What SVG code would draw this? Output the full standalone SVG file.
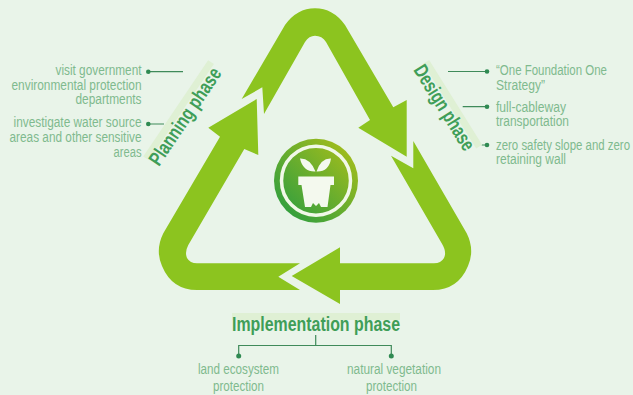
<svg xmlns="http://www.w3.org/2000/svg" width="633" height="395" viewBox="0 0 633 395">
<defs>
<linearGradient id="ring" x1="0.1" y1="0.9" x2="0.9" y2="0.1"><stop offset="0" stop-color="#2f9e3f"/><stop offset="1" stop-color="#a3bd1c"/></linearGradient>
</defs>
<style>
.arrow{fill:#8cc41f}
.t{font-family:"Liberation Sans",sans-serif;font-size:14px;fill:#7fba8e}
.e{text-anchor:end}
.h{font-family:"Liberation Sans",sans-serif;font-weight:bold;font-size:20px;fill:#3f9e58}
.l{stroke:#3f8a5a;stroke-width:1.2;fill:none}
.d{fill:#2f8a52}
.band{fill:#dff0d4}
</style>
<rect width="633" height="395" fill="#e9f4e9"/>
<g id="cycle-arrows">
<path class="arrow" d="M241.7 99L262.3 87.3L264 114L305 42Q309 35.7 315 35.7Q322 35.7 326 42L370 120L358.3 127.7L406.7 156.7V100L393.3 107.3L345 25Q333 8.3 315 8.3Q297 8.3 285 25Z"/>
<path class="arrow" d="M256.7 99L208.3 127.7L220 136.7L163.3 233.3Q155 250 162 266Q172 290 197 290H300L278.3 276.7L300 263.3H197Q190 263.3 187 258Q184.5 252 188.3 245L244.3 149L258.3 155Z"/>
<path class="arrow" d="M291.7 276L340 247.3V263.3H434Q441 263.3 444 258Q447 252 441.7 243.3L391 155.7L413.3 168.3V141L466.7 233.3Q475 250 468 266Q458 290 433 290H340V304Z"/>
</g>
<g id="emblem">
<circle cx="316" cy="180.7" r="42" fill="url(#ring)"/>
<circle cx="316" cy="180.7" r="34.5" fill="none" stroke="#f1f8e8" stroke-width="3.5"/>
<path fill="#f4f9ee" d="M300 158.5Q310 158 315.5 171.5Q303 172 300 158.5ZM331 158.5Q321 158 316.5 171.5Q329 172 331 158.5Z"/>
<path fill="#f4f9ee" d="M298.3 176.5H334V185H330.5L327.5 207H321L319 203L316 206L313 203L311 207H305L301.5 185H298.3Z"/>
</g>
<g id="connectors">
<path class="l" d="M148.3 71.7H183M148.3 124H164M448 71.5H487M462.7 106.7H487M481.7 145H487M315.7 335V345.5M238.7 356V345.5H391.3V356"/>
<circle class="d" cx="148.3" cy="71.7" r="2.3"/><circle class="d" cx="148.3" cy="124" r="2.3"/>
<circle class="d" cx="487" cy="71.5" r="2.3"/><circle class="d" cx="487" cy="106.7" r="2.3"/><circle class="d" cx="487" cy="145" r="2.3"/>
<circle class="d" cx="238.7" cy="356" r="2.5"/><circle class="d" cx="391.3" cy="356" r="2.5"/>
</g>
<g id="planning-phase">
<rect class="band" x="0" y="-19" width="116" height="7" transform="translate(159 167) rotate(-56)"/>
<text class="h" transform="translate(159 167) rotate(-56)" textLength="113" lengthAdjust="spacingAndGlyphs">Planning phase</text>
<text class="t e" x="141.5" y="75" textLength="86" lengthAdjust="spacingAndGlyphs">visit government</text>
<text class="t e" x="141.5" y="89.5" textLength="130" lengthAdjust="spacingAndGlyphs">environmental protection</text>
<text class="t e" x="141.5" y="104" textLength="66" lengthAdjust="spacingAndGlyphs">departments</text>
<text class="t e" x="141.5" y="127" textLength="128" lengthAdjust="spacingAndGlyphs">investigate water source</text>
<text class="t e" x="141.5" y="141.7" textLength="132" lengthAdjust="spacingAndGlyphs">areas and other sensitive</text>
<text class="t e" x="141.5" y="156.5" textLength="28" lengthAdjust="spacingAndGlyphs">areas</text>
</g>
<g id="design-phase">
<rect class="band" x="0" y="-19" width="100" height="7" transform="translate(413 70) rotate(58)"/>
<text class="h" transform="translate(413 70) rotate(58)" textLength="97" lengthAdjust="spacingAndGlyphs">Design phase</text>
<text class="t" x="496" y="75" textLength="111" lengthAdjust="spacingAndGlyphs">“One Foundation One</text>
<text class="t" x="496" y="89.5" textLength="49" lengthAdjust="spacingAndGlyphs">Strategy”</text>
<text class="t" x="496" y="111.5" textLength="70" lengthAdjust="spacingAndGlyphs">full-cableway</text>
<text class="t" x="496" y="126" textLength="73" lengthAdjust="spacingAndGlyphs">transportation</text>
<text class="t" x="496" y="149.5" textLength="134" lengthAdjust="spacingAndGlyphs">zero safety slope and zero</text>
<text class="t" x="496" y="164" textLength="70" lengthAdjust="spacingAndGlyphs">retaining wall</text>
</g>
<g id="implementation-phase">
<rect class="band" x="232" y="313" width="168" height="7"/>
<text class="h" x="232" y="331" textLength="168" lengthAdjust="spacingAndGlyphs">Implementation phase</text>
<text class="t" x="198" y="374" textLength="81" lengthAdjust="spacingAndGlyphs">land ecosystem</text>
<text class="t" x="213" y="391" textLength="51" lengthAdjust="spacingAndGlyphs">protection</text>
<text class="t" x="347" y="374" textLength="94" lengthAdjust="spacingAndGlyphs">natural vegetation</text>
<text class="t" x="366" y="391" textLength="51" lengthAdjust="spacingAndGlyphs">protection</text>
</g>
</svg>
